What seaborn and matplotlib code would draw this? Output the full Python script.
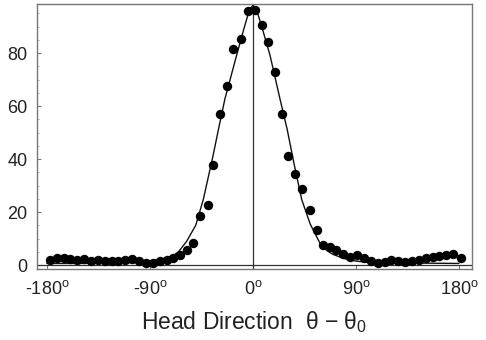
import matplotlib
matplotlib.use("Agg")
import matplotlib.pyplot as plt
from matplotlib.ticker import MultipleLocator
import seaborn as sns
import pandas as pd

# Firing rate (spikes/s) of a head-direction cell vs. heading relative to preferred direction
direction_deg = [
    -177.5, -171.5, -165.5, -159.5, -153.5, -147.5, -141.5, -135.5, -129.5, -123.5,
    -117.5, -111.5, -105.5, -99.5, -93.5, -87.5, -81.5, -75.5, -69.5, -63.5,
    -58.0, -52.2, -46.3, -39.6, -34.7, -28.8, -23.0, -17.2, -10.5, -4.1,
    1.7, 7.6, 13.4, 19.2, 25.0, 30.9, 36.7, 42.6, 49.8, 55.7,
    61.5, 67.5, 73.0, 79.0, 85.0, 91.0, 97.0, 103.0, 109.0, 115.0,
    121.0, 127.0, 133.0, 139.0, 145.0, 151.0, 157.0, 163.0, 169.0, 175.0, 181.5,
]
firing_rate = [
    2.0, 2.6, 2.8, 2.2, 1.8, 2.1, 1.6, 1.8, 1.5, 1.6,
    1.7, 2.0, 2.4, 1.5, 0.6, 0.9, 1.4, 1.8, 2.6, 3.6,
    5.6, 8.2, 18.6, 22.5, 37.6, 57.0, 67.4, 81.7, 85.4, 96.0,
    96.3, 90.7, 84.3, 72.9, 57.0, 41.2, 34.2, 28.7, 20.9, 13.3,
    7.6, 6.8, 5.7, 4.3, 3.2, 3.6, 2.6, 1.7, 0.6, 1.2,
    1.9, 1.4, 1.1, 1.7, 2.0, 2.6, 2.9, 3.3, 3.8, 4.3, 2.7,
]

# Fitted tuning curve
fit_deg = [-180, -150, -120, -100, -90, -80, -70, -65, -58, -50, -43.4, -35, -30,
           -24.5, -15, -8, -3, 0, 3, 8, 15, 23.6, 30, 36, 42.6, 50, 58.6, 65,
           70, 80, 90, 100, 120, 150, 180]
fit_rate = [0.6, 0.6, 0.7, 1.0, 1.4, 2.2, 3.5, 5.0, 8.9, 15.0, 24.7, 41.0, 51.5,
            62.7, 78.0, 89.0, 96.5, 98.0, 96.5, 89.5, 79.0, 62.7, 51.0, 38.0, 24.7,
            15.5, 8.2, 5.3, 4.0, 2.4, 1.5, 1.0, 0.8, 0.7, 0.6]

tick_pos = [-180, -90, 0, 90, 180]
tick_labels = ["-180", "-90", "0", "90", "180"]

points = pd.DataFrame({"direction": direction_deg, "rate": firing_rate})
fit = pd.DataFrame({"direction": fit_deg, "rate": fit_rate})

sns.set_theme(style="white")
plt.rcParams["font.family"] = ["Liberation Sans", "DejaVu Sans"]
plt.rcParams["mathtext.fontset"] = "custom"
plt.rcParams["mathtext.rm"] = "Liberation Sans"
plt.rcParams["mathtext.it"] = "Liberation Sans"

fig = plt.figure(figsize=(4.86, 3.40), dpi=100)
ax = fig.add_axes([37 / 486, 1 - 269 / 340, (472 - 37) / 486, (269 - 4) / 340])

ax.axhline(0, color="#333333", lw=0.9, zorder=1)
ax.axvline(0, color="#333333", lw=0.9, zorder=1)

sns.lineplot(data=fit, x="direction", y="rate", ax=ax, color="#111111",
             lw=1.0, sort=True, zorder=2)
sns.scatterplot(data=points, x="direction", y="rate", ax=ax, color="black",
                s=46, linewidth=0, zorder=3)

ax.set_xlim(-188.7, 191.4)
ax.set_ylim(-1.5, 98.5)

ax.set_xticks(tick_pos)
ax.set_xticklabels([t + r"$^{\mathrm{o}}$" for t in tick_labels])
ax.set_yticks([0, 20, 40, 60, 80])
ax.set_yticklabels(["0", "20", "40", "60", "80"])
ax.yaxis.set_minor_locator(MultipleLocator(5))

ax.tick_params(axis="both", which="major", direction="in", length=3, width=0.8,
               color="#777777", labelsize=13, labelcolor="#222222")
ax.tick_params(axis="x", which="major", pad=8, bottom=True)
ax.tick_params(axis="y", which="major", pad=7, left=True)
ax.tick_params(axis="y", which="minor", direction="in", length=1.5, width=0.6,
               color="#999999", left=True)

for side in ["left", "right", "top", "bottom"]:
    ax.spines[side].set_visible(True)
    ax.spines[side].set_color("#777777")
    ax.spines[side].set_linewidth(1.0)

ax.set_xlabel(r"Head Direction  $\mathrm{\theta}$ $-$ $\mathrm{\theta}_{0}$",
              fontsize=16.5, color="#222222", labelpad=8)
ax.set_ylabel("")

fig.savefig("out.png", dpi=100, facecolor="white")
